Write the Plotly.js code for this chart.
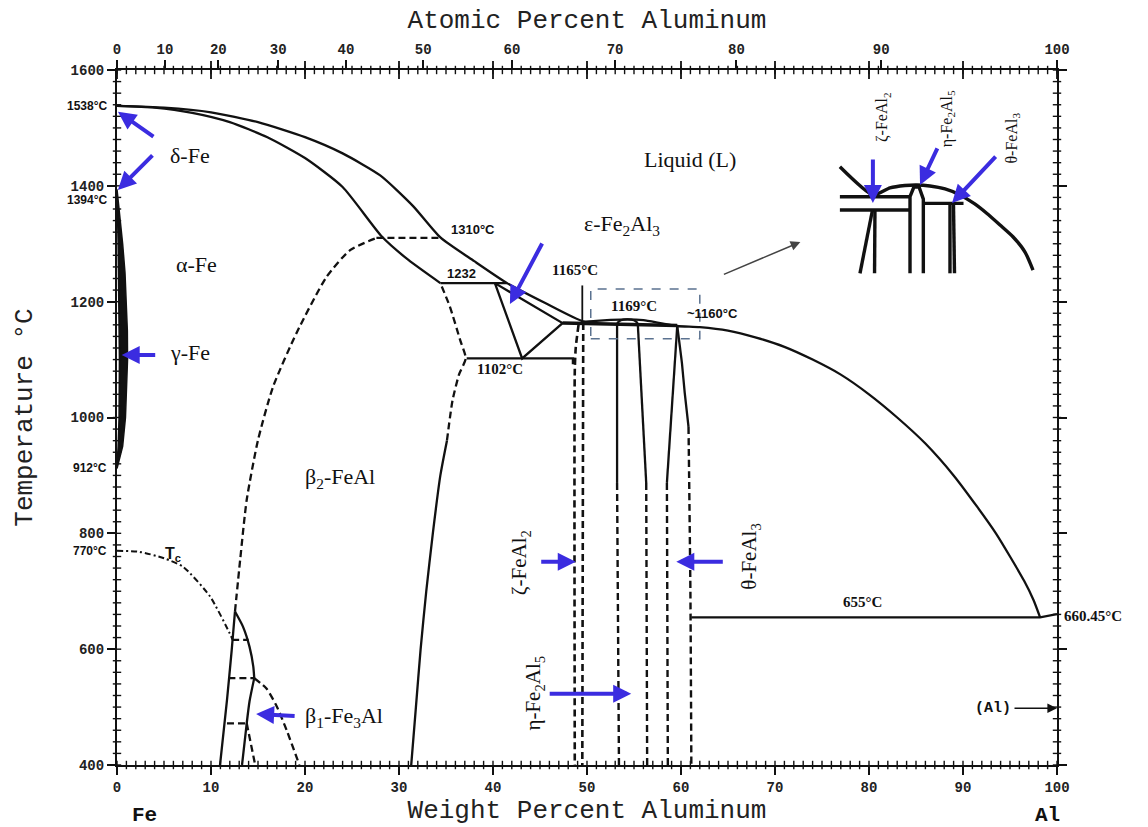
<!DOCTYPE html>
<html><head><meta charset="utf-8">
<script src="https://cdn.plot.ly/plotly-3.0.1.min.js"></script>
<style>html,body{margin:0;padding:0;background:#fff}#chart{width:1148px;height:827px}</style>
</head><body><div id="chart"></div>
<script>
// ---------- data (wt% Al, temperature in °C) ----------
const liquidusWt = [0,5,10,15,20,24,28,31.5,34.4,38,41.5,45.5,49.6,51,52.5,54.3,56,57.8,59.6,62,65,68,71,74,77,80,83,86,89,91.5,93.5,95,96.5,97.5,98.2];
const liquidusT  = [1538,1535,1527,1510,1484,1456,1418,1365,1311,1270,1232,1198,1166,1167,1168.5,1169.5,1168,1163,1158,1156,1150,1138,1122,1100,1074,1040,1000,955,900,846,800,760,718,685,655];
const solidusWt = [0,4,8,12,16,20,24,28.2,31,34.4];
const solidusT  = [1538,1535,1526,1510,1484,1448,1398,1312,1272,1232];
const peri1232Wt = [34.4,41.5];      const peri1232T = [1232,1232];
const order1310Wt = [27.6,34.4];     const order1310T = [1310,1310];
const epsWt = [40.2,43.1,47.4,40.2]; const epsT = [1232,1102,1163,1232];
const eut1102Wt = [37.2,48.5,48.5];  const eut1102T = [1102,1102,1092];
const eut1165Wt = [47.4,59.6];       const eut1165T = [1163,1159];
const lead1165Wt = [49.5,49.5];      const lead1165T = [1165,1228];
const zetaLWt = [49.1,48.8,48.7,48.7]; const zetaLT = [1160,1120,1080,400];
const zetaRWt = [49.6,49.5];          const zetaRT = [1163,400];
const etaLsWt = [53.2,53.2]; const etaLsT = [1163,887];
const etaLdWt = [53.2,53.4]; const etaLdT = [887,400];
const etaRsWt = [55.4,56.3]; const etaRsT = [1163,887];
const etaRdWt = [56.3,56.4]; const etaRdT = [887,400];
const etaTopWt = [53.2,53.6,54.3,55.0,55.4]; const etaTopT = [1163,1168,1169.5,1168,1163];
const thLsWt = [59.6,58.5]; const thLsT = [1158,887];
const thLdWt = [58.5,58.6]; const thLdT = [887,400];
const thRsWt = [59.6,59.9,60.1,60.4,60.8]; const thRsT = [1158,1120,1094,1042,984];
const thRdWt = [60.8,61.0,61.1]; const thRdT = [984,700,400];
const eut655Wt = [61.1,98.2,100]; const eut655T = [655,655,660.45];
const b2RsWt = [31.3,31.8,32.3,32.9,33.6,34.4,35.1]; const b2RsT = [400,500,600,700,800,900,960];
const b2RdWt = [35.1,35.7,36.4,37.1,36.5,35.4,34.4]; const b2RdT = [960,1030,1075,1102,1134,1192,1232];
const domeWt = [12.55,13.1,13.8,15.0,16.6,19.1,22.3,24.8,27.6]; const domeT = [665,754,858,961,1053,1146,1243,1289,1310];
const b1LWt = [10.96,11.7,12.2,12.55]; const b1LT = [400,512,598,665];
const b1RWt = [12.55,13.4,14.1,14.5,14.6]; const b1RT = [665,639,604,570,550];
const b1InWt = [14.6,14.1,13.8,13.3]; const b1InT = [550,510,472,400];
const b1InDWt = [13.8,14.7]; const b1InDT = [472,400];
const b1H1Wt = [12.25,14.0]; const b1H1T = [616,616];
const b1H2Wt = [11.85,14.6]; const b1H2T = [550,550];
const b1H3Wt = [11.7,13.8]; const b1H3T = [472,472];
const tcWt = [0,2.4,5,7.05,9.9,12.0,12.3]; const tcT = [770,768,757,742,691,627,616];
const tcRWt = [14.6,15.9,17.0,18.05,19.4]; const tcRT = [550,532,501,460,400];
const gamOutWt = [0,0.3,0.6,0.85,1.0,1.1,1.12,1.05,0.9,0.6,0]; const gamOutT = [1394,1350,1300,1250,1200,1150,1100,1050,1000,950,912];
const gamInWt = [0,0.12,0.22,0.26,0.22,0.12,0]; const gamInT = [1394,1300,1200,1100,1000,950,912];
const boxWt = [50.4,62.0]; const boxT = [1136,1222];

// inset (magnified sketch, local units 0-100)
const insLiqU = [2.4,18.7,26.8,34.1,39.9,46.3,53.7,61,68,74,80.5,86.8,92.7,96.6];
const insLiqV = [94.2,69.6,75.7,77.8,78.3,77.4,74.8,69.6,62,53.7,43.5,33.3,20,4.3];
const insH1U = [2.4,36.6]; const insH1V = [68.1,68.1];
const insH2U = [2.4,36.6]; const insH2V = [56.5,56.5];
const insH3U = [43.1,62.7]; const insH3V = [62.3,62.3];
const insZLU = [18.3,12.2]; const insZLV = [56.5,1.5];
const insZRU = [19.5,19.3]; const insZRV = [56.5,1.5];
const insEtaU = [36.6,36.6,38.5,41,43.1,43.1]; const insEtaV = [1.5,68.1,76.5,76.5,66,1.5];
const insTh1U = [56.1,56.1]; const insTh1V = [62.3,1.5];
const insTh2U = [57.8,58.3]; const insTh2V = [62.3,1.5];

// axis ticks
const atTickLabels = [0,10,20,30,40,50,60,70,80,90,100];
const M_AL = 26.98, M_FE = 55.845;
const atToWt = a => 100*a*M_AL/(a*M_AL+(100-a)*M_FE);
const WT_MIN = 0, WT_MAX = 100, T_MIN = 400, T_MAX = 1600;
const range = (a,b,s)=>{const r=[];for(let v=a;v<=b+1e-9;v+=s)r.push(v);return r;};
const minorWt = range(WT_MIN,WT_MAX,1);
const majorWt = range(WT_MIN,WT_MAX,10);
const minorT = range(T_MIN,T_MAX,20);

// ---------- traces ----------
const K = '#111';
const traces = [];
function ln(x,y,o){o=o||{};traces.push({type:'scatter',mode:'lines',x:x,y:y,xaxis:o.xa||'x',yaxis:o.ya||'y',hoverinfo:'skip',
  line:{color:K,width:o.w||2.3,dash:o.dash||'solid',shape:o.shape||'spline',smoothing:0.6},fill:o.fill||'none',fillcolor:o.fc});}
const DASH='7px,4px', DD='6px,3px,2px,3px';
ln(liquidusWt,liquidusT);
ln(solidusWt,solidusT);
ln(peri1232Wt,peri1232T,{shape:'linear'});
ln(order1310Wt,order1310T,{dash:DASH,shape:'linear'});
ln(epsWt,epsT,{shape:'linear'});
ln(eut1102Wt,eut1102T,{shape:'linear'});
ln(eut1165Wt,eut1165T,{shape:'linear',w:3.5});
ln(lead1165Wt,lead1165T,{shape:'linear',w:1.8});
ln(zetaLWt,zetaLT,{dash:DASH,w:2.6});
ln(zetaRWt,zetaRT,{dash:DASH,w:2.6,shape:'linear'});
ln(etaLsWt,etaLsT,{shape:'linear'}); ln(etaLdWt,etaLdT,{dash:DASH,shape:'linear',w:2.4});
ln(etaRsWt,etaRsT,{shape:'linear'}); ln(etaRdWt,etaRdT,{dash:DASH,shape:'linear',w:2.4});
ln(etaTopWt,etaTopT);
ln(thLsWt,thLsT,{shape:'linear'}); ln(thLdWt,thLdT,{dash:DASH,shape:'linear',w:2.4});
ln(thRsWt,thRsT); ln(thRdWt,thRdT,{dash:DASH,w:2.4});
ln(eut655Wt,eut655T,{shape:'linear'});
ln(b2RsWt,b2RsT); ln(b2RdWt,b2RdT,{dash:DASH});
ln(domeWt,domeT,{dash:DASH});
ln(b1LWt,b1LT); ln(b1RWt,b1RT); ln(b1InWt,b1InT); ln(b1InDWt,b1InDT,{dash:DASH,shape:'linear'});
ln(b1H1Wt,b1H1T,{dash:DASH,shape:'linear'}); ln(b1H2Wt,b1H2T,{dash:DASH,shape:'linear'}); ln(b1H3Wt,b1H3T,{dash:DASH,shape:'linear'});
ln(tcWt,tcT,{dash:DD,w:2}); ln(tcRWt,tcRT,{dash:DASH});
ln(gamOutWt.concat(gamInWt.slice().reverse()),gamOutT.concat(gamInT.slice().reverse()),{fill:'toself',fc:K,w:1.5,shape:'linear'});
// inset
const IL={xa:'x4',ya:'y4',w:3.4,shape:'linear'};
ln(insLiqU,insLiqV,{xa:'x4',ya:'y4',w:3.4});
[[insH1U,insH1V],[insH2U,insH2V],[insH3U,insH3V],[insZLU,insZLV],[insZRU,insZRV],[insEtaU,insEtaV],[insTh1U,insTh1V],[insTh2U,insTh2V]]
  .forEach(p=>ln(p[0],p[1],IL));
// minor tick marks along the frame (markers centred on the frame lines)
function tickMarks(x,y,sym,size,w){traces.push({type:'scatter',mode:'markers',x:x,y:y,cliponaxis:false,hoverinfo:'skip',
  marker:{symbol:sym,size:size,color:K,line:{color:K,width:w}}});}
tickMarks(minorWt,minorWt.map(()=>T_MIN),'line-ns',6,1.4);
tickMarks(minorWt,minorWt.map(()=>T_MAX),'line-ns',6,1.4);
tickMarks(majorWt,majorWt.map(()=>T_MAX),'line-ns',13,1.8);
tickMarks(minorT.map(()=>WT_MIN),minorT,'line-ew',6,1.4);
tickMarks(minorT.map(()=>WT_MAX),minorT,'line-ew',6,1.4);
// carrier so the atomic-percent axis is drawn
traces.push({type:'scatter',mode:'none',x:[0,100],y:[400,1600],xaxis:'x2',yaxis:'y',hoverinfo:'skip'});

// ---------- annotations ----------
const BLUE = '#3b2ce0';
const SERIF = 'Liberation Serif', SANS = 'Liberation Sans', MONO = 'Liberation Mono';
const ann = [];
function tx(t,x,y,size,fam,o){o=o||{};ann.push(Object.assign({text:t,x:x,y:y,xref:'x',yref:'y',showarrow:false,
  font:{family:fam,size:size,color:'#111',weight:o.bold?'bold':'normal'}},o.extra||{}));}
function ar(x,y,ax,ay,o){o=o||{};ann.push({text:'',x:x,y:y,xref:o.xr||'x',yref:o.yr||'y',ax:ax,ay:ay,showarrow:true,
  arrowcolor:o.c||BLUE,arrowwidth:o.w||4,arrowhead:o.h||2,arrowsize:o.s||0.9,standoff:0,startstandoff:0});}
tx('Liquid (L)',61.0,1445,22,SERIF);
tx('δ-Fe',7.8,1453,22,SERIF);
tx('α-Fe',8.5,1264,22,SERIF);
tx('γ-Fe',7.8,1113,22,SERIF);
tx('β<sub>2</sub>-FeAl',23.7,896,22,SERIF);
tx('β<sub>1</sub>-Fe<sub>3</sub>Al',24.2,483,22,SERIF);
tx('ε-Fe<sub>2</sub>Al<sub>3</sub>',53.7,1333,22,SERIF);
tx('1310°C',37.9,1324,13,SANS,{bold:true});
tx('1232',36.7,1249,13,SANS,{bold:true});
tx('1165°C',48.7,1255,15,SERIF,{bold:true});
tx('1169°C',55.0,1193,15,SERIF,{bold:true});
tx('~1160°C',63.4,1179,13,SANS,{bold:true});
tx('1102°C',40.7,1084,15,SERIF,{bold:true});
tx('655°C',79.3,681,15,SERIF,{bold:true});
tx('(Al)',93.2,497,15,MONO,{bold:true});
tx('T<sub>c</sub>',6.0,764,16,SANS,{bold:true});
tx('ζ-FeAl<sub>2</sub>',42.9,749,21,SERIF,{extra:{textangle:-90}});
tx('η-Fe<sub>2</sub>Al<sub>5</sub>',44.4,524,21,SERIF,{extra:{textangle:-90}});
tx('θ-FeAl<sub>3</sub>',67.4,759,21,SERIF,{extra:{textangle:-90}});
tx('ζ-FeAl<sub>2</sub>',81.5,1519,16,SERIF,{extra:{textangle:-90}});
tx('η-Fe<sub>2</sub>Al<sub>5</sub>',88.3,1515,16,SERIF,{extra:{textangle:-90}});
tx('θ-FeAl<sub>3</sub>',95.3,1483,16,SERIF,{extra:{textangle:-90}});
// special temperatures on the axes
function side(t,y,right){ann.push({text:t,x:right?1:0,xref:'paper',y:y,yref:'y',xanchor:right?'left':'right',yanchor:'middle',xshift:right?5:-8,showarrow:false,
  font:{family:right?SERIF:SANS,size:right?15:12,color:'#111',weight:'bold'}});}
side('1538°C',1538); side('1394°C',1375); side('912°C',912); side('770°C',770); side('660.45°C',658,true);
ann.push({text:'Fe',x:0.014,y:0,xref:'paper',yref:'paper',yanchor:'middle',yshift:-50,showarrow:false,font:{family:MONO,size:21,color:'#111',weight:'bold'}});
ann.push({text:'Al',x:1.005,y:0,xref:'paper',yref:'paper',yanchor:'middle',yshift:-50,showarrow:false,font:{family:MONO,size:21,color:'#111',weight:'bold'}});
// arrows
ar(0.1,1528,37,26); ar(0.1,1393,36,-36); ar(0.5,1108,35,0);
ar(41.8,1196,33,-62);
ar(48.8,751,-36,0); ar(59.5,751,48,0); ar(54.7,523,-83,0);
ar(14.8,488,40,2);
ar(18.5,62.6,0,-45,{xr:'x4',yr:'y4'}); ar(41.5,78.3,18,-38,{xr:'x4',yr:'y4'}); ar(57.1,62.6,45,-48,{xr:'x4',yr:'y4'});
ar(72.7,1303,-78,33,{c:'#444',w:1.5,h:2,s:1.3});
ar(100,498,-44,0,{c:'#111',w:1.6,h:2,s:1.2});

const AXF = {family:MONO,size:14,color:'#222',weight:'bold'};
const TF = {family:MONO,size:26,color:'#222'};
const layout = {
  width:1148,height:827,margin:{l:117,r:91,t:70,b:62},
  paper_bgcolor:'#fff',plot_bgcolor:'#fff',showlegend:false,
  xaxis:{range:[WT_MIN,WT_MAX],tickmode:'linear',tick0:0,dtick:10,ticks:'outside',ticklen:8,tickwidth:2,tickcolor:K,
    showline:true,linewidth:2,linecolor:K,showgrid:false,zeroline:false,automargin:false,tickfont:AXF,
    title:{text:'Weight Percent Aluminum',font:TF,standoff:3}},
  xaxis2:{overlaying:'x',side:'top',anchor:'y',range:[WT_MIN,WT_MAX],tickmode:'array',tickvals:atTickLabels.map(atToWt),ticktext:atTickLabels.map(String),
    ticks:'outside',ticklen:8,tickwidth:2,tickcolor:K,showline:true,linewidth:2,linecolor:K,showgrid:false,zeroline:false,automargin:false,tickfont:AXF,
    title:{text:'Atomic Percent Aluminum',font:TF,standoff:6}},
  yaxis:{range:[T_MIN,T_MAX],tickmode:'linear',tick0:400,dtick:200,ticks:'outside',ticklen:8,tickwidth:2,tickcolor:K,mirror:'ticks',
    showline:true,linewidth:2,linecolor:K,showgrid:false,zeroline:false,automargin:false,tickfont:AXF,
    title:{text:'Temperature °C',font:TF,standoff:30}},
  xaxis4:{domain:[0.7638,0.9819],anchor:'y4',range:[0,100],visible:false},
  yaxis4:{domain:[0.705,0.8705],anchor:'x4',range:[0,100],visible:false},
  shapes:[{type:'rect',xref:'x',yref:'y',x0:boxWt[0],x1:boxWt[1],y0:boxT[0],y1:boxT[1],line:{color:'#5b7290',width:1.5,dash:'dash'}}],
  annotations:ann
};
Plotly.newPlot('chart',traces,layout,{staticPlot:true,displayModeBar:false});
</script></body></html>
